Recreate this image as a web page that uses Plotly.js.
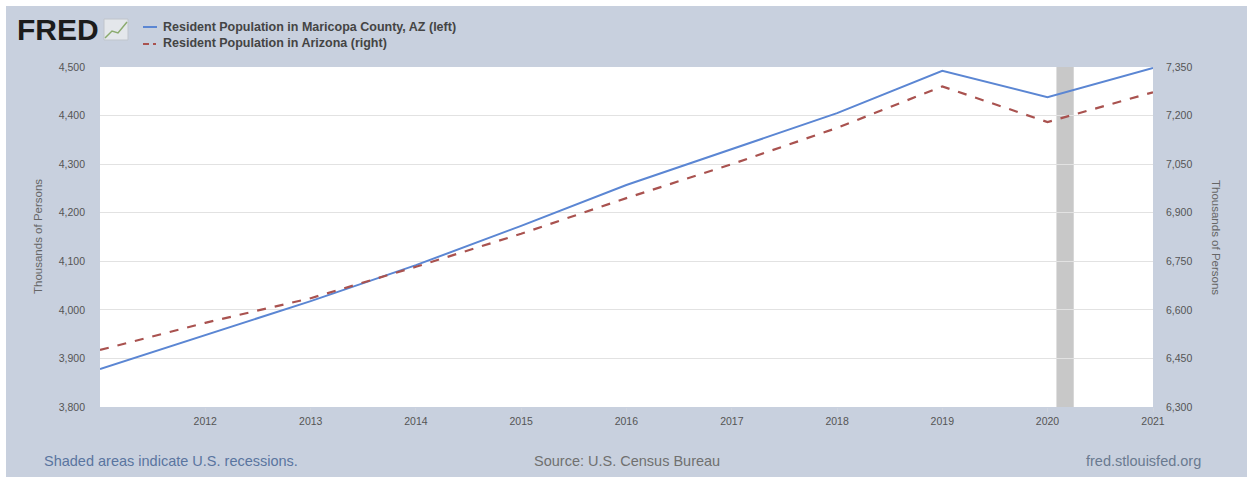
<!DOCTYPE html>
<html>
<head>
<meta charset="utf-8">
<script src="https://cdn.plot.ly/plotly-3.0.1.min.js"></script>
<style>html,body{margin:0;padding:0;background:#fff;}#chart{width:1253px;height:483px;}</style>
</head>
<body>
<div id="chart"></div>
<script>
const years = ['2011-01-01','2012-01-01','2013-01-01','2014-01-01','2015-01-01','2016-01-01','2017-01-01','2018-01-01','2019-01-01','2020-01-01','2021-01-01'];
const maricopa = [3878, 3948, 4018, 4092, 4173, 4257, 4331, 4405, 4492, 4438, 4498];
const arizona = [6476, 6560, 6636, 6733, 6835, 6945, 7050, 7162, 7290, 7180, 7272];
const seriesNames = ['Resident Population in Maricopa County, AZ (left)', 'Resident Population in Arizona (right)'];
const recessionStart = '2020-02-01';
const recessionEnd = '2020-04-01';
const xTickVals = ['2012-01-01','2013-01-01','2014-01-01','2015-01-01','2016-01-01','2017-01-01','2018-01-01','2019-01-01','2020-01-01','2021-01-01'];
const xTickText = ['2012','2013','2014','2015','2016','2017','2018','2019','2020','2021'];
const leftTicks = [3800, 3900, 4000, 4100, 4200, 4300, 4400, 4500];
const rightTicks = [6300, 6450, 6600, 6750, 6900, 7050, 7200, 7350];

const FONT = 'Liberation Sans, Arial, sans-serif';
const BLUE = '#5b86d3', RED = '#a9524f';
const traces = [
  {x: years, y: maricopa, type: 'scatter', mode: 'lines', name: seriesNames[0],
   line: {color: BLUE, width: 2}, yaxis: 'y'},
  {x: years, y: arizona, type: 'scatter', mode: 'lines', name: seriesNames[1],
   line: {color: RED, width: 2.2, dash: 'dash'}, yaxis: 'y2'}
];

// pixel helpers (paper coords relative to plot area 100..1153 x, 67..407 y)
const px = v => (v - 100) / 1053;
const py = v => (407 - v) / 340;

const layout = {
  width: 1253, height: 483,
  paper_bgcolor: '#c8d0de', plot_bgcolor: '#ffffff',
  margin: {l: 100, r: 100, t: 67, b: 76},
  font: {family: FONT, color: '#555', size: 10},
  showlegend: false,
  xaxis: {type: 'date', range: ['2011-01-01', '2021-01-01'], tickvals: xTickVals, ticktext: xTickText,
    showgrid: false, zeroline: false, showline: false, ticks: 'outside', ticklen: 4, tickcolor: '#d0d5de',
    tickfont: {family: FONT, size: 10.5, color: '#555'}, fixedrange: true},
  yaxis: {range: [3800, 4500], tickvals: leftTicks, tickformat: ',', showgrid: true, gridcolor: '#e2e2e2',
    zeroline: false, showline: false, ticks: '', tickfont: {family: FONT, size: 10.5, color: '#555'}, ticklabelstandoff: 14},
  yaxis2: {range: [6300, 7350], tickvals: rightTicks, tickformat: ',', overlaying: 'y', side: 'right',
    showgrid: false, zeroline: false, showline: false, ticks: '', tickfont: {family: FONT, size: 10.5, color: '#555'}, ticklabelstandoff: 12},
  shapes: [
    {type: 'rect', xref: 'x', yref: 'paper', x0: recessionStart, x1: recessionEnd, y0: 0, y1: 1,
     fillcolor: '#c8c8c8', line: {width: 0}, layer: 'below'},
    {type: 'rect', xref: 'paper', yref: 'paper', x0: px(0), x1: px(1253), y0: py(483), y1: py(0),
     line: {color: '#ffffff', width: 12}, fillcolor: 'rgba(0,0,0,0)', layer: 'below'},
    // FRED icon
    {type: 'rect', xref: 'paper', yref: 'paper', x0: px(104), x1: px(128), y0: py(40), y1: py(19),
     fillcolor: '#e4e7eb', line: {color: '#c0c5cc', width: 1}},
    {type: 'path', xref: 'paper', yref: 'paper',
     path: 'M ' + px(105) + ',' + py(38) + ' L ' + px(112) + ',' + py(31) + ' L ' + px(118) + ',' + py(33) + ' L ' + px(127) + ',' + py(22),
     line: {color: '#8bab6e', width: 1.5}},
    // custom legend samples
    {type: 'line', xref: 'paper', yref: 'paper', x0: px(143), x1: px(157), y0: py(27), y1: py(27),
     line: {color: BLUE, width: 2}},
    {type: 'line', xref: 'paper', yref: 'paper', x0: px(143), x1: px(149), y0: py(44), y1: py(44),
     line: {color: RED, width: 2}},
    {type: 'line', xref: 'paper', yref: 'paper', x0: px(153), x1: px(156), y0: py(44), y1: py(44),
     line: {color: RED, width: 2}}
  ],
  annotations: [
    {text: '<b>FRED</b>', xref: 'paper', yref: 'paper', x: px(15), y: py(30), xanchor: 'left', yanchor: 'middle',
     showarrow: false, font: {family: 'Liberation Sans, Arial, sans-serif', size: 30, color: '#1c1c1c'}},
    {text: '<b>' + seriesNames[0] + '</b>', xref: 'paper', yref: 'paper', x: px(161), y: py(27), xanchor: 'left', yanchor: 'middle',
     showarrow: false, font: {family: FONT, size: 12.5, color: '#444'}},
    {text: '<b>' + seriesNames[1] + '</b>', xref: 'paper', yref: 'paper', x: px(161), y: py(43), xanchor: 'left', yanchor: 'middle',
     showarrow: false, font: {family: FONT, size: 12.5, color: '#444'}},
    {text: 'Thousands of Persons', xref: 'paper', yref: 'paper', x: px(30), y: 0.5, textangle: -90,
     showarrow: false, font: {family: FONT, size: 11.5, color: '#666'}},
    {text: 'Thousands of Persons', xref: 'paper', yref: 'paper', x: px(1224), y: 0.5, textangle: 90,
     showarrow: false, font: {family: FONT, size: 11.5, color: '#666'}},
    {text: 'Shaded areas indicate U.S. recessions.', xref: 'paper', yref: 'paper', x: px(42), y: py(461),
     xanchor: 'left', yanchor: 'middle', showarrow: false, font: {family: FONT, size: 14.5, color: '#5a75a0'}},
    {text: 'Source: U.S. Census Bureau', xref: 'paper', yref: 'paper', x: px(627), y: py(461),
     xanchor: 'center', yanchor: 'middle', showarrow: false, font: {family: FONT, size: 14.5, color: '#707070'}},
    {text: 'fred.stlouisfed.org', xref: 'paper', yref: 'paper', x: px(1203), y: py(461),
     xanchor: 'right', yanchor: 'middle', showarrow: false, font: {family: FONT, size: 14.5, color: '#6a7a90'}}
  ]
};

Plotly.newPlot('chart', traces, layout, {staticPlot: true, displayModeBar: false});
</script>
</body>
</html>
